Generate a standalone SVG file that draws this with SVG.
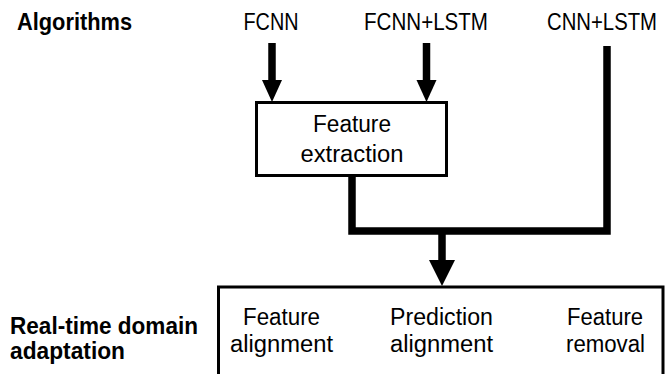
<svg xmlns="http://www.w3.org/2000/svg" width="667" height="374" viewBox="0 0 667 374">
<style>
text{font-family:"Liberation Sans",Arial,sans-serif;font-size:23px;fill:#000;text-anchor:middle}
.b{font-weight:bold;text-anchor:start;font-size:24px}
.box{fill:#fff;stroke:#000;stroke-width:3}
.ln{fill:none;stroke:#000;stroke-width:7.5}
.hd{fill:#000}
</style>
<rect width="667" height="374" fill="#fff"/>
<g id="labels">
<text class="b" x="17" y="30" textLength="115" lengthAdjust="spacingAndGlyphs">Algorithms</text>
<text class="b" x="10" y="334" textLength="188" lengthAdjust="spacingAndGlyphs">Real-time domain</text>
<text class="b" x="10" y="359" textLength="115" lengthAdjust="spacingAndGlyphs">adaptation</text>
</g>
<g id="fcnn"><text x="271" y="30" textLength="55" lengthAdjust="spacingAndGlyphs">FCNN</text></g>
<g id="fcnn-lstm"><text x="426" y="30" textLength="124" lengthAdjust="spacingAndGlyphs">FCNN+LSTM</text></g>
<g id="cnn-lstm"><text x="602" y="30" font-size="22" textLength="110" lengthAdjust="spacingAndGlyphs">CNN+LSTM</text></g>
<g id="connectors">
<line class="ln" x1="272" y1="43" x2="272" y2="84"/>
<polygon class="hd" points="262,80 282,80 272,102"/>
<line class="ln" x1="426.5" y1="43" x2="426.5" y2="84"/>
<polygon class="hd" points="416.5,80 436.5,80 426.5,102"/>
<path class="ln" d="M352 175 V231 H607 V46"/>
<line class="ln" x1="442" y1="231" x2="442" y2="264"/>
<polygon class="hd" points="429,260 455,260 442,286"/>
</g>
<g id="feature-extraction">
<rect class="box" x="256.5" y="102.5" width="190" height="73"/>
<text x="352" y="132" textLength="78" lengthAdjust="spacingAndGlyphs">Feature</text>
<text x="352" y="162" textLength="103" lengthAdjust="spacingAndGlyphs">extraction</text>
</g>
<g id="domain-adaptation">
<rect class="box" x="218.5" y="287" width="444.5" height="100"/>
<text x="281.5" y="325" textLength="77" lengthAdjust="spacingAndGlyphs">Feature</text>
<text x="281.5" y="352" textLength="103" lengthAdjust="spacingAndGlyphs">alignment</text>
<text x="441.5" y="325" textLength="103" lengthAdjust="spacingAndGlyphs">Prediction</text>
<text x="441.5" y="352" textLength="103" lengthAdjust="spacingAndGlyphs">alignment</text>
<text x="605" y="325" textLength="76" lengthAdjust="spacingAndGlyphs">Feature</text>
<text x="605.5" y="352" textLength="79" lengthAdjust="spacingAndGlyphs">removal</text>
</g>
</svg>
